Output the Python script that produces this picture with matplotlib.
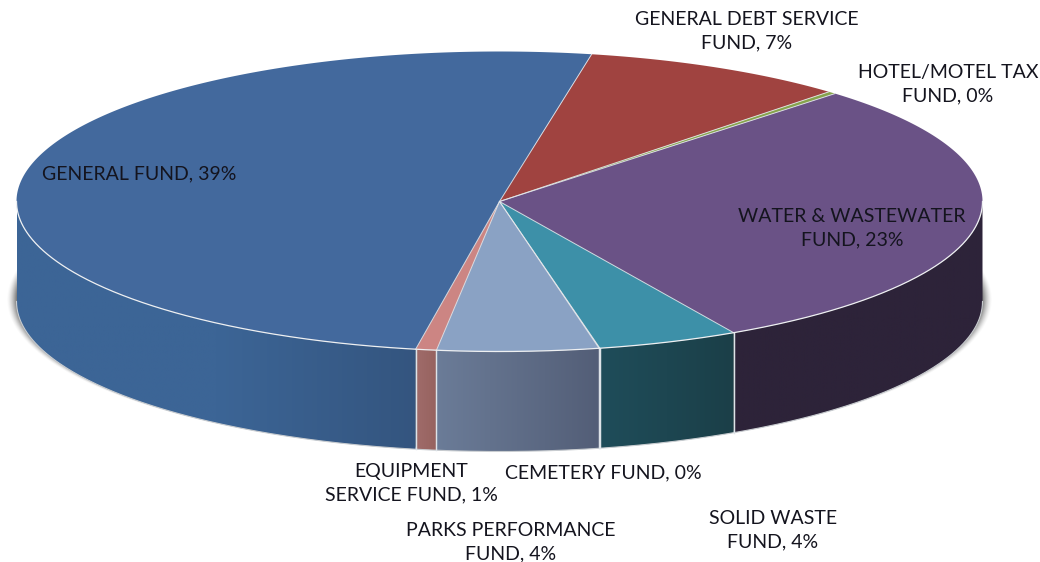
import numpy as np
import matplotlib
matplotlib.use("Agg")
import matplotlib.pyplot as plt
from matplotlib.colors import LinearSegmentedColormap
from matplotlib.patches import Polygon

# slice sizes are degrees measured on the picture, the labels say something else
funds = ["GENERAL DEBT SERVICE\nFUND", "HOTEL/MOTEL TAX\nFUND", "WATER & WASTEWATER\nFUND",
         "SOLID WASTE\nFUND", "CEMETERY FUND", "PARKS PERFORMANCE\nFUND",
         "EQUIPMENT\nSERVICE FUND", "GENERAL FUND"]
percent_labels = [7, 0, 23, 4, 0, 4, 1, 39]
sweep_deg = [32, 1, 107, 17, 0.1, 19.4, 2.5, 181]

top_colors = ["#A04340", "#86A34C", "#6A5286", "#3D90A8", "#DDE3E8", "#8AA2C4", "#CC8583", "#43699D"]
side_left = ["#7A3230", "#66803A", "#2D2339", "#1F4D5A", "#DDE3E8", "#6B7C98", "#A06C6A", "#3C6596"]
side_right = ["#7A3230", "#66803A", "#2D2339", "#1B3F48", "#DDE3E8", "#535E77", "#96625F", "#34557F"]

label_pos = [(747, 31), (948, 84), (852, 228), (773, 530), (603, 473), (511, 542), (411, 483), (139, 174)]

cx, cy = 499.5, 201.5
rx, ry = 483, 150
depth = 100
start_deg = 79

fig = plt.figure(figsize=(10.4, 5.62), dpi=100)
ax = fig.add_axes([0, 0, 1, 1])
ax.set_xlim(0, 1040)
ax.set_ylim(562, 0)
ax.axis("off")


def rim(t_deg, drop=0):
    t = np.radians(t_deg)
    return cx + rx * np.cos(t), cy - ry * np.sin(t) + drop


# soft shadow behind the disc
xx, yy = np.meshgrid(np.arange(1040) + 0.5, np.arange(562) + 0.5)
dist = np.hypot((xx - cx) / (rx + 10), (yy - (cy + depth - 2)) / (ry + 2))
fade = np.clip((1 - dist) / 0.02, 0, 1)
shadow = np.zeros((562, 1040, 4))
shadow[..., :3] = 0.38
shadow[..., 3] = fade ** 1.6 * 0.8
ax.imshow(shadow, extent=(0, 1040, 562, 0), aspect="auto", zorder=1)

ends = start_deg - np.cumsum(sweep_deg)
starts = ends + np.array(sweep_deg)

# walls of the front half
for i in range(len(funds)):
    t0, t1 = starts[i], ends[i]
    ts = np.linspace(t0, t1, 200)
    ts = ts[np.sin(np.radians(ts)) <= 0]
    if len(ts) < 2:
        continue
    x, y = rim(ts)
    verts = np.vstack([np.column_stack([x, y]), np.column_stack([x[::-1], y[::-1] + depth])])
    stops = [side_left[i], side_right[i]]
    if i == 7:
        stops = [side_left[i], side_left[i], side_right[i]]
    cmap = LinearSegmentedColormap.from_list("side", stops)
    img = ax.imshow(np.linspace(0, 1, 256).reshape(1, -1), cmap=cmap, aspect="auto",
                    extent=(x.min(), x.max(), y.max() + depth, y.min()), zorder=2)
    img.set_clip_path(Polygon(verts, transform=ax.transData))
    # thin light seam between walls
    if x[-1] > cx - rx + 1:
        ax.plot([x[-1], x[-1]], [y[-1], y[-1] + depth], color="#DDE3E8", lw=0.9, zorder=4)
    if x[0] < cx + rx - 1:
        ax.plot([x[0], x[0]], [y[0], y[0] + depth], color="#DDE3E8", lw=0.9, zorder=4)

ax.set_xlim(0, 1040)
ax.set_ylim(562, 0)

# front bottom edge
x, y = rim(np.linspace(-180, 0, 400), depth)
ax.plot(x, y, color="#C8CCD0", lw=0.8, zorder=3)

# top face
for i in range(len(funds)):
    ts = np.linspace(starts[i], ends[i], 300)
    x, y = rim(ts)
    ax.fill(np.r_[cx, x], np.r_[cy, y], color=top_colors[i], lw=0, zorder=5)
for t in starts:
    x, y = rim(t)
    ax.plot([cx, x], [cy, y], color="#E6EAEE", lw=0.7, alpha=0.85, zorder=6)

# bright rim on the front
x, y = rim(np.linspace(-180, 0, 600))
ax.plot(x, y, color="#EEF0F2", lw=0.9, zorder=7)

for i, name in enumerate(funds):
    ax.text(label_pos[i][0], label_pos[i][1], f"{name}, {percent_labels[i]}%",
            family="Lato", fontsize=14, color="#14141E", ha="center", va="center",
            multialignment="center", linespacing=1.42, zorder=8)

fig.savefig("out.png", dpi=100)
